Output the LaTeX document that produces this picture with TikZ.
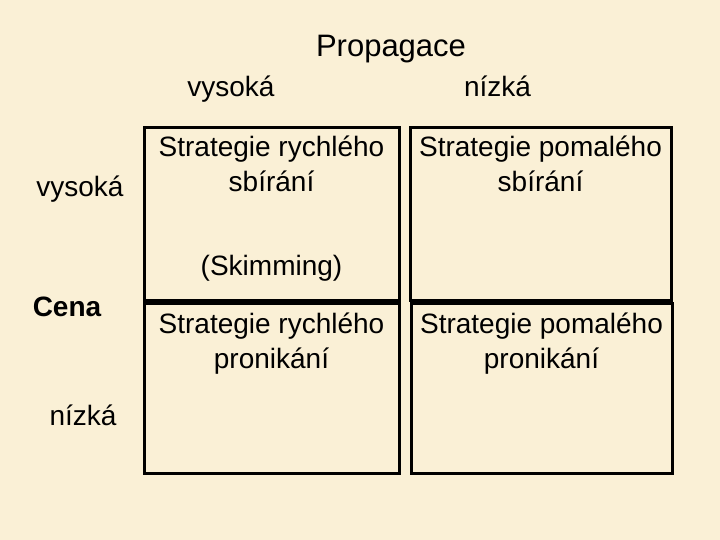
\documentclass[tikz,border=0pt]{standalone}
\usepackage{fontspec}
\setmainfont{Liberation Sans}
\definecolor{parchment}{RGB}{250,240,214}
\begin{document}
\begin{tikzpicture}[x=1bp,y=-1bp,
  cell/.style={draw,line width=3bp,inner sep=0pt,minimum height=172bp},
  txt/.style={anchor=base,inner sep=0pt,align=center,font=\fontsize{28bp}{35bp}\selectfont}]
\fill[parchment] (0,0) rectangle (720,540);
\useasboundingbox (0,0) rectangle (720,540);
\node[cell,minimum width=255bp] (b1) at (271.5,214) {};
\node[cell,minimum width=261bp] (b2) at (540.5,214) {};
\node[cell,minimum width=255bp,minimum height=169bp] (b3) at (271.5,388.5) {};
\node[cell,minimum width=261bp,minimum height=169bp] (b4) at (541.5,388.5) {};
\node[txt,font=\fontsize{31bp}{36bp}\selectfont] (prop) at (391,57) {Propagace};
\node[txt] (hi1) at (231,97) {vysoká};
\node[txt] (lo1) at (497.5,97) {nízká};
\node[txt] (hi2) at (80,197) {vysoká};
\node[txt,font=\fontsize{28bp}{34bp}\selectfont\bfseries] (cena) at (67,316) {Cena};
\node[txt] (lo2) at (83,425) {nízká};
\node[txt] (s1) at (b1.center |- 0,192) {Strategie rychlého\\sbírání};
\node[txt] (skim) at (b1.center |- 0,276) {(Skimming)};
\node[txt] (s2) at (b2.center |- 0,192) {Strategie pomalého\\sbírání};
\node[txt] (s3) at (b3.center |- 0,368) {Strategie rychlého\\pronikání};
\node[txt] (s4) at (b4.center |- 0,368) {Strategie pomalého\\pronikání};
\end{tikzpicture}
\end{document}
